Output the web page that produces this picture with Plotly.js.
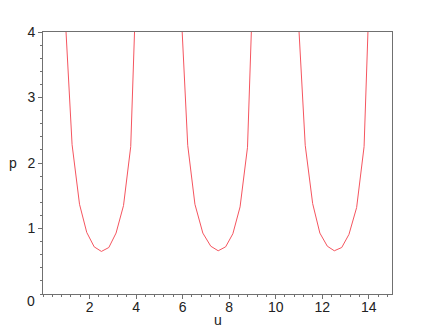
<!DOCTYPE html>
<html>
<head>
<meta charset="utf-8">
<script src="https://cdn.plot.ly/plotly-3.0.1.min.js"></script>
<style>html,body{margin:0;padding:0;background:#fff;}#chart{width:435px;height:327px;}</style>
</head>
<body>
<div id="chart"></div>
<script>
var u1 = [0.63, 0.94, 1.25, 1.57, 1.88, 2.20, 2.51, 2.83, 3.14, 3.46, 3.77, 4.08, 4.40];
var p1 = [9.0, 4.33, 2.28, 1.37, 0.94, 0.72, 0.65, 0.71, 0.93, 1.35, 2.25, 4.35, 9.0];
var u2 = [5.58, 5.90, 6.22, 6.53, 6.87, 7.21, 7.53, 7.85, 8.16, 8.47, 8.79, 9.10, 9.42];
var p2 = [9.0, 4.60, 2.27, 1.37, 0.93, 0.73, 0.66, 0.72, 0.92, 1.33, 2.24, 4.30, 9.0];
var u3 = [10.65, 10.96, 11.27, 11.59, 11.90, 12.22, 12.52, 12.84, 13.15, 13.48, 13.80, 14.12, 14.44];
var p3 = [9.0, 4.30, 2.27, 1.38, 0.93, 0.73, 0.66, 0.71, 0.91, 1.32, 2.25, 4.35, 9.0];
var xTicks = [2, 4, 6, 8, 10, 12, 14];
var yTicks = [1, 2, 3, 4];
var xTitle = "u", yTitle = "p", originLabel = "0";

var uAll = u1.concat([null], u2, [null], u3);
var pAll = p1.concat([null], p2, [null], p3);

var font = {family: "Liberation Sans, Arial, sans-serif", size: 14, color: "#222"};
var axisCol = "#707070";

var data = [{
  x: uAll, y: pAll, type: "scatter", mode: "lines",
  line: {color: "rgb(245,85,95)", width: 1}, connectgaps: false,
  hoverinfo: "none"
}];

var layout = {
  width: 435, height: 327,
  margin: {l: 43, r: 43, t: 32, b: 33, pad: 0},
  paper_bgcolor: "#fff", plot_bgcolor: "#fff",
  showlegend: false,
  font: font,
  xaxis: {
    range: [0, 15], tickvals: xTicks, ticktext: xTicks.map(String),
    showgrid: false, zeroline: false, showline: true, mirror: true,
    linecolor: axisCol, linewidth: 1,
    ticks: "outside", ticklen: 4, tickcolor: axisCol, tickwidth: 1,
    minor: {dtick: 0.4, tick0: 0, ticks: "outside", ticklen: 2, tickcolor: axisCol, showgrid: false},
    tickfont: font, ticklabelstandoff: -4
  },
  yaxis: {
    range: [0, 4], tickvals: yTicks, ticktext: yTicks.map(String),
    showgrid: false, zeroline: false, showline: true, mirror: true,
    linecolor: axisCol, linewidth: 1,
    ticks: "outside", ticklen: 4, tickcolor: axisCol, tickwidth: 1,
    minor: {dtick: 0.2, tick0: 0, ticks: "outside", ticklen: 2, tickcolor: axisCol, showgrid: false},
    tickfont: font, ticklabelstandoff: 0
  },
  annotations: [
    {text: originLabel, xref: "paper", yref: "paper", x: -0.034, y: -0.028, xanchor: "center", yanchor: "middle", showarrow: false, font: font},
    {text: xTitle, xref: "paper", yref: "paper", x: 0.5, y: -0.098, xanchor: "center", yanchor: "middle", showarrow: false, font: font},
    {text: yTitle, xref: "paper", yref: "paper", x: -0.085, y: 0.5, xanchor: "center", yanchor: "middle", showarrow: false, font: font}
  ]
};

Plotly.newPlot("chart", data, layout, {staticPlot: true, displayModeBar: false});
</script>
</body>
</html>
